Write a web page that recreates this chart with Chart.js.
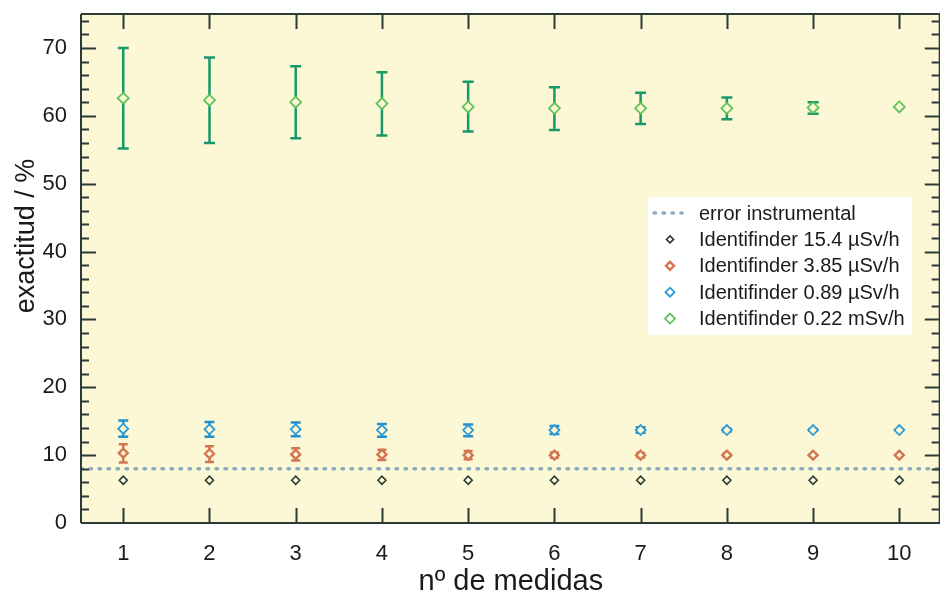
<!DOCTYPE html>
<html lang="es">
<head>
<meta charset="UTF-8">
<title>exactitud vs nº de medidas</title>
<script src="https://cdn.jsdelivr.net/npm/chart.js"></script>
<style>
    html, body { margin: 0; padding: 0; background: #ffffff; overflow: hidden; }
    #wrap { width: 948px; height: 599px; }
</style>
</head>
<body>
<div id="wrap"><canvas id="chart" width="948" height="599"></canvas></div>
<script>
// data
const measures = [1, 2, 3, 4, 5, 6, 7, 8, 9, 10];

const black154 = [6.3, 6.3, 6.3, 6.3, 6.3, 6.3, 6.3, 6.3, 6.3, 6.3];

const orange385 = [10.3, 10.2, 10.1, 10.1, 10.0, 10.0, 10.0, 10.0, 10.0, 10.0];
const orange385Lo = [8.9, 9.0, 9.2, 9.3, 9.4, 9.6, 9.7, 9.8, 9.9, 10.0];
const orange385Hi = [11.6, 11.3, 11.0, 10.8, 10.6, 10.4, 10.3, 10.2, 10.1, 10.0];

const blue089 = [13.9, 13.8, 13.8, 13.7, 13.7, 13.7, 13.7, 13.7, 13.7, 13.7];
const blue089Lo = [12.7, 12.7, 12.8, 12.7, 12.8, 13.1, 13.3, 13.5, 13.6, 13.7];
const blue089Hi = [15.1, 14.9, 14.8, 14.6, 14.5, 14.3, 14.1, 13.9, 13.8, 13.7];

const green022 = [62.6, 62.3, 62.0, 61.8, 61.3, 61.1, 61.1, 61.1, 61.2, 61.3];
const green022Lo = [55.2, 56.0, 56.7, 57.1, 57.7, 57.9, 58.8, 59.5, 60.3, 61.3];
const green022Hi = [70.0, 68.6, 67.3, 66.4, 65.0, 64.2, 63.4, 62.7, 62.0, 61.3];

const errorInstrumental = 8.0;

const labels = [
    "error instrumental",
    "Identifinder 15.4 µSv/h",
    "Identifinder 3.85 µSv/h",
    "Identifinder 0.89 µSv/h",
    "Identifinder 0.22 mSv/h"
];

const X_MIN = 0.51, X_MAX = 10.48;
const Y_MIN = 0, Y_MAX = 75;

const plotBg = "#fcf8d6";
const frameColor = "#2c3b39";
const textColor = "#1a1a1a";
const FONT = "'Liberation Sans', Arial, Helvetica, sans-serif";

function pts(ys) {
    return measures.map((x, i) => ({ x: x, y: ys[i] }));
}

// background of the plot area
const bgPlugin = {
    id: "plotBg",
    beforeDraw(chart) {
        const { ctx, chartArea: a } = chart;
        ctx.save();
        ctx.fillStyle = plotBg;
        ctx.fillRect(a.left, a.top, a.right - a.left, a.bottom - a.top);
        ctx.restore();
    }
};

// vertical error bars with caps, drawn under the markers
const errorBars = {
    id: "errorBars",
    beforeDatasetsDraw(chart) {
        const { ctx, scales: { x, y } } = chart;
        ctx.save();
        chart.data.datasets.forEach(ds => {
            if (!ds.errLo) return;
            ctx.strokeStyle = ds.errColor;
            ctx.lineWidth = ds.errWidth;
            ds.errLo.forEach((lo, i) => {
                const hi = ds.errHi[i];
                if (hi - lo < 0.05) return;
                const px = x.getPixelForValue(measures[i]);
                const pLo = y.getPixelForValue(lo);
                const pHi = y.getPixelForValue(hi);
                const c = ds.capHalf;
                ctx.beginPath();
                ctx.moveTo(px, pLo); ctx.lineTo(px, pHi);
                ctx.moveTo(px - c, pLo); ctx.lineTo(px + c, pLo);
                ctx.moveTo(px - c, pHi); ctx.lineTo(px + c, pHi);
                ctx.stroke();
            });
        });
        ctx.restore();
    }
};

function diamond(ctx, cx, cy, r, stroke, lw, fill) {
    ctx.beginPath();
    ctx.moveTo(cx, cy - r);
    ctx.lineTo(cx + r, cy);
    ctx.lineTo(cx, cy + r);
    ctx.lineTo(cx - r, cy);
    ctx.closePath();
    ctx.fillStyle = fill;
    ctx.fill();
    ctx.lineWidth = lw;
    ctx.strokeStyle = stroke;
    ctx.stroke();
}

// frame, inward ticks, y title and the legend box
const framePlugin = {
    id: "frame",
    afterDraw(chart) {
        const { ctx, chartArea: a, scales: { x, y } } = chart;
        ctx.save();
        ctx.strokeStyle = frameColor;
        ctx.lineWidth = 2;
        ctx.beginPath();
        ctx.moveTo(a.left, a.top); ctx.lineTo(a.right, a.top);
        ctx.moveTo(a.left, a.top); ctx.lineTo(a.left, a.bottom);
        ctx.moveTo(a.left, a.bottom); ctx.lineTo(a.right, a.bottom);
        ctx.moveTo(a.right - 1, a.top); ctx.lineTo(a.right - 1, a.bottom);
        x.ticks.forEach(t => {
            const px = Math.round(x.getPixelForValue(t.value)) + 0.5;
            ctx.moveTo(px, a.bottom); ctx.lineTo(px, a.bottom - 15);
            ctx.moveTo(px, a.top); ctx.lineTo(px, a.top + 15);
        });
        for (let v = Y_MIN + 2; v < Y_MAX; v += 2) {
            const py = Math.round(y.getPixelForValue(v)) + 0.5;
            const len = (v % 10 === 0) ? 15 : 8;
            ctx.moveTo(a.left, py); ctx.lineTo(a.left + len, py);
            ctx.moveTo(a.right - 1, py); ctx.lineTo(a.right - 1 - len, py);
        }
        ctx.stroke();

        // y title
        ctx.fillStyle = textColor;
        ctx.font = "27px " + FONT;
        ctx.textAlign = "center";
        ctx.textBaseline = "middle";
        ctx.translate(27, 236);
        ctx.rotate(-Math.PI / 2);
        ctx.fillText("exactitud / %", 0, 0);
        ctx.restore();

        // legend
        ctx.save();
        const lx = 648, ly = 197, lw = 264, lh = 138;
        ctx.fillStyle = "#ffffff";
        ctx.fillRect(lx, ly, lw, lh);
        ctx.font = "20px " + FONT;
        ctx.textAlign = "left";
        ctx.textBaseline = "middle";
        chart.data.datasets.forEach((ds, i) => {
            const cy = 213 + i * 26.4;
            if (ds.type === "line") {
                ctx.strokeStyle = ds.borderColor;
                ctx.lineWidth = ds.borderWidth;
                ctx.lineCap = "round";
                ctx.setLineDash(ds.borderDash);
                ctx.beginPath();
                ctx.moveTo(654, cy); ctx.lineTo(682, cy);
                ctx.stroke();
                ctx.setLineDash([]);
            } else {
                diamond(ctx, 670, cy, ds.pointRadius - 0.5, ds.pointBorderColor, ds.pointBorderWidth, "#ffffff");
            }
            ctx.fillStyle = textColor;
            ctx.fillText(ds.label, 699, cy + 1);
        });
        ctx.restore();
    }
};

function markerSet(label, ys, color, r, bw, extra) {
    return Object.assign({
        type: "scatter",
        label: label,
        data: pts(ys),
        showLine: false,
        pointStyle: "rectRot",
        pointRadius: r,
        pointHoverRadius: r,
        pointBorderWidth: bw,
        pointBorderColor: color,
        pointBackgroundColor: plotBg
    }, extra || {});
}

function noPad(scale) {
    scale.paddingTop = 0;
    scale.paddingBottom = 0;
    scale.paddingLeft = 0;
    scale.paddingRight = 0;
}

new Chart(document.getElementById("chart"), {
    type: "scatter",
    data: {
        datasets: [
            {
                type: "line",
                label: labels[0],
                data: [{ x: X_MIN, y: errorInstrumental }, { x: X_MAX, y: errorInstrumental }],
                borderColor: "rgba(128, 162, 186, 0.9)",
                borderWidth: 3.5,
                borderDash: [1.5, 7.5],
                borderCapStyle: "round",
                pointRadius: 0,
                fill: false
            },
            markerSet(labels[1], black154, "#2a3a34", 4, 1.6),
            markerSet(labels[2], orange385, "#d37652", 4.5, 2.4,
                { errLo: orange385Lo, errHi: orange385Hi, errColor: "#d37652", errWidth: 2.5, capHalf: 4.5 }),
            markerSet(labels[3], blue089, "#2b9bd6", 5, 1.8,
                { errLo: blue089Lo, errHi: blue089Hi, errColor: "#2790cc", errWidth: 2.5, capHalf: 5 }),
            markerSet(labels[4], green022, "#5fc25a", 5.5, 1.8,
                { errLo: green022Lo, errHi: green022Hi, errColor: "#17996a", errWidth: 2.5, capHalf: 5.5 })
        ]
    },
    options: {
        responsive: false,
        animation: false,
        devicePixelRatio: 1,
        layout: { padding: { top: 14, left: 0, right: 0, bottom: 0 } },
        plugins: {
            legend: { display: false },
            tooltip: { enabled: false }
        },
        scales: {
            x: {
                type: "linear",
                min: X_MIN,
                max: X_MAX,
                border: { display: false },
                grid: { display: false, drawTicks: false },
                ticks: {
                    stepSize: 1,
                    includeBounds: false,
                    autoSkip: false,
                    maxRotation: 0,
                    padding: 18,
                    color: textColor,
                    font: { family: FONT, size: 22 }
                },
                title: {
                    display: true,
                    text: "nº de medidas",
                    color: textColor,
                    font: { family: FONT, size: 29 },
                    padding: { top: 0, bottom: 0 }
                },
                afterFit(scale) { scale.height = 76; noPad(scale); }
            },
            y: {
                type: "linear",
                min: Y_MIN,
                max: Y_MAX,
                border: { display: false },
                grid: { display: false, drawTicks: false },
                ticks: {
                    stepSize: 10,
                    includeBounds: false,
                    padding: 14,
                    color: textColor,
                    font: { family: FONT, size: 22 }
                },
                afterFit(scale) { scale.width = 81; noPad(scale); }
            }
        }
    },
    plugins: [bgPlugin, errorBars, framePlugin]
});
</script>
</body>
</html>
